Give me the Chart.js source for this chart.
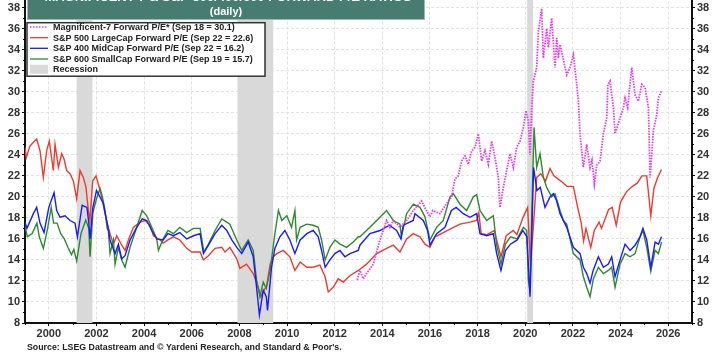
<!DOCTYPE html>
<html><head><meta charset="utf-8">
<script src="https://cdn.jsdelivr.net/npm/chart.js@4.4.1/dist/chart.umd.min.js"></script>
<style>
html,body{margin:0;padding:0;background:#fff;overflow:hidden;width:717px;height:355px;}
#wrap{position:absolute;left:0;top:-22px;width:717px;height:377px;}
</style></head><body>
<div id="wrap"><canvas id="c" width="717" height="377"></canvas></div>
<script>
// ---------- DATA ----------
const xTickYears = [2000,2002,2004,2006,2008,2010,2012,2014,2016,2018,2020,2022,2024,2026];
const yTickValues = [8,10,12,14,16,18,20,22,24,26,28,30,32,34,36,38];
const recessions = [[2001.17,2001.83],[2007.92,2009.42],[2020.08,2020.33]];
const seriesLabels = [
  "Magnificent-7 Forward P/E* (Sep 18 = 30.1)",
  "S&P 500 LargeCap Forward P/E (Sep 22 = 22.6)",
  "S&P 400 MidCap Forward P/E (Sep 22 = 16.2)",
  "S&P 600 SmallCap Forward P/E (Sep 19 = 15.7)",
  "Recession"
];
const titleText = "MAGNIFICENT-7 & S&P 500/400/600 FORWARD P/E RATIOS";
const subtitleText = "(daily)";
const sourceText = "Source: LSEG Datastream and \u00a9 Yardeni Research, and Standard & Poor's.";

const mag7 = [[2012.95,12.1],[2013.06,13.0],[2013.2,12.2],[2013.34,12.7],[2013.62,13.6],[2013.9,15.9],[2014.04,16.8],[2014.18,17.75],[2014.32,17.1],[2014.46,17.75],[2014.74,17.1],[2015.02,17.75],[2015.3,18.7],[2015.65,19.6],[2015.8,18.9],[2016.0,18.1],[2016.12,18.7],[2016.42,18.4],[2016.77,19.6],[2016.91,20.0],[2017.05,21.7],[2017.19,22.0],[2017.33,23.4],[2017.47,23.9],[2017.61,23.1],[2017.75,24.4],[2017.89,24.7],[2018.03,26.0],[2018.17,23.4],[2018.31,24.4],[2018.45,23.1],[2018.59,25.3],[2018.73,23.75],[2018.87,21.85],[2018.94,19.0],[2019.08,20.9],[2019.22,22.5],[2019.36,24.1],[2019.5,22.8],[2019.64,24.7],[2019.78,25.3],[2019.92,26.6],[2020.03,28.2],[2020.13,27.2],[2020.2,24.0],[2020.27,28.3],[2020.34,31.0],[2020.48,32.3],[2020.55,35.7],[2020.69,37.9],[2020.76,33.2],[2020.9,36.0],[2020.97,34.2],[2021.11,37.0],[2021.25,32.3],[2021.32,35.1],[2021.39,33.2],[2021.46,34.5],[2021.74,31.6],[2021.88,32.3],[2022.02,33.5],[2022.16,30.7],[2022.23,29.1],[2022.3,26.0],[2022.44,22.8],[2022.58,25.0],[2022.72,22.8],[2022.8,23.5],[2022.9,21.2],[2023.0,23.0],[2023.14,23.4],[2023.28,26.0],[2023.42,27.5],[2023.47,30.7],[2023.56,31.0],[2023.7,28.5],[2023.77,26.0],[2023.98,27.5],[2024.12,28.5],[2024.19,29.4],[2024.3,28.5],[2024.47,32.3],[2024.61,29.7],[2024.75,29.1],[2024.89,30.7],[2025.03,30.4],[2025.17,28.5],[2025.24,21.85],[2025.38,26.3],[2025.52,27.8],[2025.59,29.4],[2025.72,30.1]];

const sp500 = [[1999.0,24.7],[1999.05,23.7],[1999.2,24.8],[1999.35,25.2],[1999.49,25.5],[1999.63,24.4],[1999.77,21.85],[1999.91,24.4],[2000.02,25.3],[2000.19,22.5],[2000.26,25.0],[2000.4,22.8],[2000.54,24.1],[2000.64,23.6],[2000.75,22.5],[2000.89,22.2],[2001.03,21.5],[2001.17,19.8],[2001.31,22.5],[2001.45,21.85],[2001.56,20.9],[2001.66,18.7],[2001.73,17.8],[2001.84,21.5],[2001.98,22.0],[2002.08,21.2],[2002.22,20.0],[2002.35,18.5],[2002.45,17.5],[2002.57,16.5],[2002.71,15.5],[2002.85,16.3],[2003.06,15.4],[2003.2,14.9],[2003.34,15.9],[2003.55,17.1],[2003.83,17.6],[2004.04,17.75],[2004.25,17.3],[2004.39,16.3],[2004.67,15.9],[2004.8,15.6],[2005.0,15.9],[2005.23,16.2],[2005.5,15.9],[2005.79,15.1],[2006.0,14.75],[2006.35,14.75],[2006.49,14.0],[2006.7,14.4],[2006.98,15.1],[2007.26,15.2],[2007.4,14.75],[2007.6,15.2],[2007.89,14.1],[2008.02,13.2],[2008.3,13.6],[2008.58,12.7],[2008.79,11.4],[2008.9,10.5],[2009.15,11.6],[2009.29,13.6],[2009.42,14.3],[2009.57,14.6],[2009.84,14.9],[2010.12,14.3],[2010.33,13.0],[2010.55,13.8],[2010.83,13.3],[2011.1,13.3],[2011.38,13.5],[2011.6,12.4],[2011.73,10.95],[2011.94,11.4],[2012.15,12.2],[2012.36,11.9],[2012.64,12.5],[2012.99,13.0],[2013.34,13.6],[2013.76,14.6],[2014.18,15.1],[2014.46,15.4],[2014.74,14.75],[2015.02,16.0],[2015.3,16.5],[2015.58,16.2],[2015.79,15.5],[2016.0,15.2],[2016.21,16.2],[2016.56,16.6],[2016.91,17.0],[2017.26,17.4],[2017.68,17.6],[2017.96,17.75],[2018.05,18.5],[2018.15,16.5],[2018.4,16.4],[2018.7,16.8],[2018.98,14.3],[2019.2,16.3],[2019.5,16.8],[2019.65,16.4],[2019.9,18.0],[2020.1,19.0],[2020.22,13.5],[2020.35,17.5],[2020.48,21.85],[2020.65,22.2],[2020.85,21.5],[2021.04,22.7],[2021.2,22.0],[2021.5,21.5],[2021.75,21.0],[2022.02,21.0],[2022.2,19.0],[2022.35,17.5],[2022.45,15.8],[2022.55,17.0],[2022.75,15.2],[2022.9,16.8],[2023.1,17.6],[2023.2,17.0],[2023.5,18.8],[2023.65,19.0],[2023.82,17.3],[2024.0,19.5],[2024.25,20.5],[2024.5,21.0],[2024.7,21.3],[2024.9,22.0],[2025.1,22.0],[2025.27,18.2],[2025.4,20.8],[2025.55,21.8],[2025.72,22.6]];

const sp400 = [[1999.0,17.6],[1999.08,17.0],[1999.35,18.4],[1999.49,19.0],[1999.63,17.5],[1999.8,16.6],[2000.0,19.0],[2000.22,20.4],[2000.33,18.7],[2000.47,18.06],[2000.68,18.2],[2000.89,17.75],[2001.1,17.5],[2001.2,16.2],[2001.4,19.2],[2001.6,19.0],[2001.68,17.5],[2001.73,16.0],[2001.85,19.0],[2002.0,20.6],[2002.15,20.0],[2002.29,19.35],[2002.45,17.5],[2002.57,15.9],[2002.78,14.6],[2002.92,15.5],[2003.06,14.1],[2003.2,14.4],[2003.41,15.9],[2003.69,17.1],[2003.92,17.9],[2004.11,17.75],[2004.32,16.8],[2004.53,16.0],[2004.8,15.9],[2005.0,16.5],[2005.23,16.3],[2005.5,16.6],[2005.79,16.0],[2006.07,16.3],[2006.35,16.5],[2006.49,14.6],[2006.7,15.4],[2006.98,16.5],[2007.26,17.3],[2007.47,16.8],[2007.68,15.9],[2007.89,15.2],[2008.1,14.6],[2008.37,15.7],[2008.58,14.3],[2008.72,11.4],[2008.84,8.75],[2009.0,11.1],[2009.13,10.5],[2009.18,9.2],[2009.35,13.3],[2009.49,15.1],[2009.7,16.2],[2009.91,16.8],[2010.12,15.9],[2010.33,14.6],[2010.55,15.9],[2010.83,16.5],[2011.1,16.8],[2011.31,16.2],[2011.45,14.9],[2011.6,13.3],[2011.8,14.0],[2012.01,14.6],[2012.22,14.9],[2012.43,14.3],[2012.64,14.6],[2012.99,14.9],[2013.06,15.4],[2013.48,16.5],[2013.9,16.8],[2014.3,17.3],[2014.6,16.8],[2014.78,16.0],[2014.88,17.3],[2015.3,17.75],[2015.37,18.4],[2015.72,17.75],[2015.9,16.8],[2016.0,15.4],[2016.28,16.5],[2016.63,17.1],[2016.9,18.7],[2017.1,19.0],[2017.4,18.4],[2017.68,18.06],[2017.96,18.4],[2018.1,16.5],[2018.38,16.3],[2018.66,16.5],[2018.8,14.6],[2018.98,13.0],[2019.17,14.9],[2019.38,15.5],[2019.66,15.9],[2019.9,16.8],[2020.07,16.2],[2020.2,10.5],[2020.27,16.0],[2020.35,22.8],[2020.49,20.6],[2020.63,20.9],[2020.83,19.0],[2021.04,20.0],[2021.18,20.3],[2021.32,19.6],[2021.46,18.4],[2021.74,17.1],[2022.02,15.2],[2022.3,14.6],[2022.44,13.3],[2022.58,12.7],[2022.72,11.8],[2022.85,13.0],[2023.07,14.3],[2023.28,13.3],[2023.49,13.6],[2023.63,14.3],[2023.77,12.4],[2023.98,14.0],[2024.19,15.5],[2024.4,14.9],[2024.61,15.4],[2024.82,16.2],[2024.94,17.0],[2025.1,15.9],[2025.27,13.3],[2025.45,15.7],[2025.59,15.5],[2025.72,16.2]];

const sp600 = [[1999.0,17.2],[1999.1,16.2],[1999.3,16.5],[1999.5,17.5],[1999.6,16.2],[1999.77,15.1],[1999.95,17.0],[2000.1,19.0],[2000.2,17.5],[2000.35,17.5],[2000.5,16.5],[2000.65,16.0],[2000.8,15.2],[2000.95,14.5],[2001.05,15.0],[2001.17,13.9],[2001.35,16.5],[2001.55,17.8],[2001.68,17.0],[2001.73,14.3],[2001.85,18.5],[2002.0,19.8],[2002.15,20.8],[2002.25,20.0],[2002.35,18.8],[2002.45,17.0],[2002.5,16.8],[2002.57,14.6],[2002.71,15.9],[2002.78,13.6],[2002.92,15.2],[2003.06,14.0],[2003.2,13.3],[2003.41,15.2],[2003.69,17.1],[2003.92,18.7],[2004.11,18.2],[2004.32,17.1],[2004.53,16.0],[2004.6,14.9],[2004.8,16.0],[2005.0,16.8],[2005.23,16.5],[2005.5,17.1],[2005.79,16.6],[2006.07,17.0],[2006.35,17.0],[2006.51,14.75],[2006.7,15.5],[2006.98,16.8],[2007.26,17.9],[2007.47,17.6],[2007.6,17.4],[2007.89,15.9],[2008.1,14.9],[2008.37,15.9],[2008.58,14.9],[2008.72,12.1],[2008.86,10.5],[2009.0,11.9],[2009.13,11.3],[2009.29,13.0],[2009.49,16.5],[2009.64,18.7],[2009.78,17.75],[2009.99,18.2],[2010.19,17.1],[2010.33,18.7],[2010.4,15.9],[2010.55,17.1],[2010.83,17.4],[2011.1,17.3],[2011.31,17.1],[2011.45,15.9],[2011.6,14.0],[2011.8,15.2],[2012.01,15.9],[2012.22,15.5],[2012.5,15.2],[2012.78,15.7],[2012.99,16.2],[2013.06,16.2],[2013.48,17.1],[2013.9,18.06],[2014.18,18.7],[2014.46,17.75],[2014.74,17.4],[2014.8,16.2],[2015.02,18.4],[2015.3,19.3],[2015.58,19.0],[2015.79,18.1],[2016.0,15.9],[2016.28,17.1],[2016.56,17.75],[2016.84,20.0],[2016.98,20.3],[2017.26,19.3],[2017.54,18.7],[2017.82,20.0],[2017.96,20.2],[2018.1,18.7],[2018.38,17.75],[2018.59,18.1],[2018.66,18.2],[2018.8,15.4],[2018.98,13.6],[2019.17,15.5],[2019.38,16.2],[2019.66,16.0],[2019.92,17.1],[2020.06,16.8],[2020.13,12.1],[2020.2,11.0],[2020.27,18.0],[2020.37,26.6],[2020.48,22.8],[2020.62,24.1],[2020.76,21.85],[2020.9,20.9],[2021.11,20.0],[2021.25,20.3],[2021.46,18.7],[2021.6,17.75],[2021.74,17.4],[2022.02,14.6],[2022.3,14.0],[2022.44,12.4],[2022.58,11.4],[2022.72,10.5],[2022.86,12.2],[2023.07,13.3],[2023.28,12.7],[2023.49,13.0],[2023.63,13.3],[2023.77,11.4],[2023.98,13.6],[2024.19,14.6],[2024.4,14.3],[2024.61,14.6],[2024.82,16.2],[2024.94,16.8],[2025.1,15.2],[2025.27,12.9],[2025.45,14.9],[2025.59,14.6],[2025.72,15.7]];

// ---------- STYLE ----------
const COLORS = {mag7:'#e63ce6', sp500:'#ee3b2f', sp400:'#1a1aff', sp600:'#2e8a2e', rec:'#d9d9d9', teal:'#477c70'};
const FONT = 'Arial, "Liberation Sans", sans-serif';
const OFF = 22; // canvas is shifted up by this many px

const toPts = a => a.map(p => ({x:p[0], y:p[1]}));

const decor = {
  id:'decor',
  beforeDatasetsDraw(chart){
    const {ctx, chartArea:a, scales:{x}} = chart;
    ctx.save();
    ctx.fillStyle = COLORS.rec;
    recessions.forEach(r => {
      const x1 = x.getPixelForValue(r[0]), x2 = x.getPixelForValue(r[1]);
      ctx.fillRect(x1, a.top, x2-x1, a.bottom-a.top);
    });
    ctx.restore();
  },
  afterDatasetsDraw(chart){
    const {ctx} = chart;
    ctx.save();
    // title box
    ctx.fillStyle = COLORS.teal;
    ctx.fillRect(27, 0, 398, 20+OFF);
    ctx.strokeStyle = '#9fb9b2'; ctx.lineWidth = 1;
    ctx.strokeRect(27.5, -1, 397, 20.5+OFF);
    ctx.fillStyle = '#fff';
    ctx.textAlign = 'center';
    ctx.font = 'bold 13px ' + FONT;
    ctx.textBaseline = 'alphabetic';
    ctx.fillText(titleText, 228, 23);
    ctx.font = 'bold 11px ' + FONT;
    ctx.textBaseline = 'middle';
    ctx.fillText(subtitleText, 226, 12+OFF);
    // legend box
    const lx = 27, ly = 22.7+OFF, lw = 238, lh = 53.5;
    ctx.fillStyle = '#fff';
    ctx.fillRect(lx, ly, lw, lh);
    ctx.strokeStyle = '#333'; ctx.lineWidth = 1.5;
    ctx.strokeRect(lx, ly, lw, lh);
    const rows = [27, 37.7, 48.3, 59, 69.3].map(v => v+OFF);
    const cols = [COLORS.mag7, COLORS.sp500, COLORS.sp400, COLORS.sp600];
    ctx.font = 'bold 9px ' + FONT;
    ctx.textAlign = 'left'; ctx.textBaseline = 'middle';
    rows.forEach((yy, i) => {
      if (i < 4) {
        ctx.strokeStyle = cols[i]; ctx.lineWidth = 1.3;
        ctx.setLineDash(i === 0 ? [1.5,1.5] : []);
        ctx.beginPath(); ctx.moveTo(30, yy); ctx.lineTo(48, yy); ctx.stroke();
        ctx.setLineDash([]);
      } else {
        ctx.fillStyle = COLORS.rec;
        ctx.fillRect(30, yy-4.5, 18, 9);
      }
      ctx.fillStyle = '#222';
      ctx.fillText(seriesLabels[i], 53, yy+0.5);
    });
    ctx.restore();
  },
  afterDraw(chart){
    const {ctx, chartArea:a, scales:{x, y}} = chart;
    ctx.save();
    ctx.strokeStyle = '#000'; ctx.lineWidth = 1;
    // minor ticks
    for (let yr = 1999; yr <= 2027; yr++) {
      if (yr % 2 === 0) continue;
      const px = Math.round(x.getPixelForValue(yr)) + 0.5;
      ctx.beginPath(); ctx.moveTo(px, a.bottom); ctx.lineTo(px, a.bottom+2); ctx.stroke();
    }
    for (let v = 9; v <= 39; v += 2) {
      const py = Math.round(y.getPixelForValue(v)) + 0.5;
      ctx.beginPath(); ctx.moveTo(a.left-2, py); ctx.lineTo(a.left, py); ctx.stroke();
      ctx.beginPath(); ctx.moveTo(a.right, py); ctx.lineTo(a.right+2, py); ctx.stroke();
    }
    // source
    ctx.fillStyle = '#222';
    ctx.font = 'bold 8.8px ' + FONT;
    ctx.textAlign = 'left'; ctx.textBaseline = 'middle';
    ctx.fillText(sourceText, 27, 348+OFF);
    ctx.restore();
  }
};

const tickFont = {family: FONT, size: 11, weight: 'bold'};
const gridStyle = {color:'#e2e2e2', lineWidth:1, drawTicks:true, tickLength:3, tickColor:'#000', tickBorderDash:[]};
const borderStyle = {display:true, color:'#111', width:2, dash:[3,2]};

new Chart(document.getElementById('c'), {
  type: 'line',
  data: {
    datasets: [
      {label: seriesLabels[0], data: toPts(mag7), borderColor: COLORS.mag7, borderWidth: 1.8, borderDash: [1.5,1.2], order: 0},
      {label: seriesLabels[2], data: toPts(sp400), borderColor: COLORS.sp400, borderWidth: 1.4, order: 1},
      {label: seriesLabels[3], data: toPts(sp600), borderColor: COLORS.sp600, borderWidth: 1.4, order: 2},
      {label: seriesLabels[1], data: toPts(sp500), borderColor: COLORS.sp500, borderWidth: 1.4, order: 3}
    ]
  },
  options: {
    responsive: false, animation: false, devicePixelRatio: 1,
    elements: {point: {radius: 0}, line: {tension: 0, fill: false}},
    layout: {padding: {top: 7, bottom: 14, left: 0, right: 0}},
    plugins: {legend: {display: false}, tooltip: {enabled: false}, title: {display: false}},
    scales: {
      x: {
        type: 'linear', position: 'bottom', min: 1999, max: 2027,
        afterBuildTicks: s => { s.ticks = xTickYears.map(v => ({value: v})); },
        afterFit: s => { s.height = 18; },
        ticks: {callback: v => String(v), font: tickFont, color: '#333', padding: 1, maxRotation: 0, autoSkip: false},
        grid: gridStyle, border: borderStyle
      },
      y: {
        type: 'linear', position: 'left', min: 8, max: 40,
        afterBuildTicks: s => { s.ticks = yTickValues.map(v => ({value: v})); },
        afterFit: s => { s.width = 25; },
        ticks: {font: tickFont, color: '#333', padding: 2, autoSkip: false},
        grid: gridStyle, border: borderStyle
      },
      y2: {
        type: 'linear', position: 'right', min: 8, max: 40,
        afterBuildTicks: s => { s.ticks = yTickValues.map(v => ({value: v})); },
        afterFit: s => { s.width = 25; },
        ticks: {font: tickFont, color: '#333', padding: 2, autoSkip: false},
        grid: {drawOnChartArea: false, drawTicks: true, tickLength: 3, tickColor: '#000'},
        border: {display: true, color: '#111', width: 2}
      }
    }
  },
  plugins: [decor]
});
</script>
</body></html>
